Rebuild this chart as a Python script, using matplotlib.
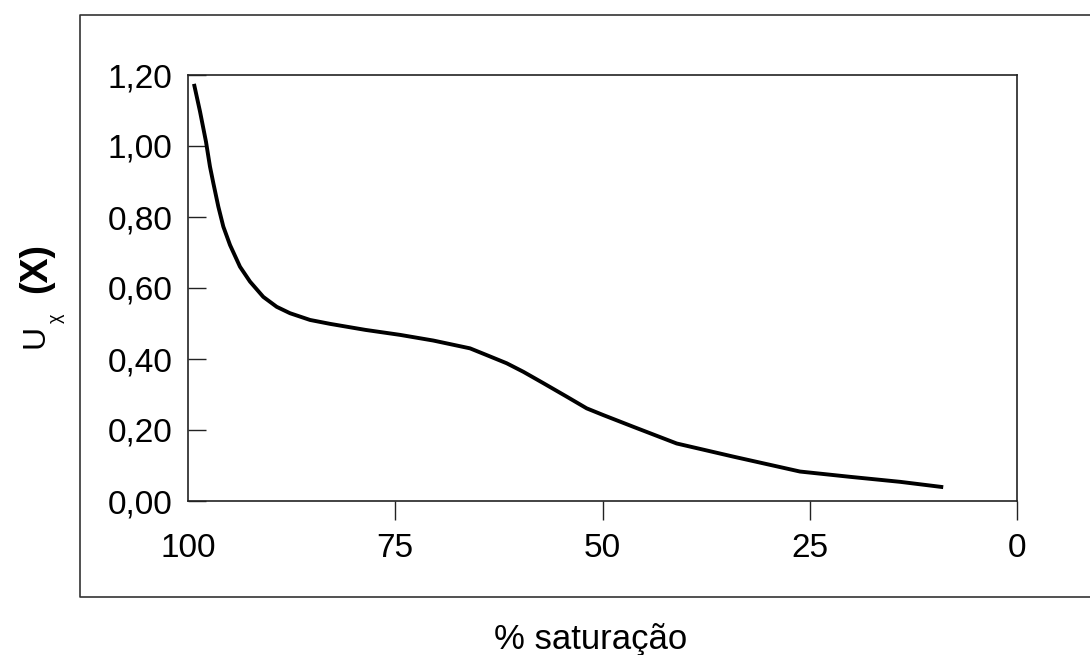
import matplotlib
matplotlib.use("Agg")
import matplotlib.pyplot as plt
from matplotlib.lines import Line2D

plt.rcParams['font.family'] = ['Liberation Sans', 'DejaVu Sans']

# Data
saturation = [99.28, 98.55, 97.83, 97.35, 96.94, 96.34, 95.74, 94.93, 93.73, 92.52,
              90.92, 89.30, 87.70, 85.28, 82.87, 78.6, 74.43, 70.41, 65.98, 63.97,
              61.56, 59.55, 57.14, 54.32, 51.91, 49.90, 46.28, 41.05, 34.22, 26.18,
              20.1, 14.1, 8.9]
u_x = [1.175, 1.097, 1.012, 0.942, 0.895, 0.829, 0.773, 0.721, 0.660, 0.618,
       0.575, 0.547, 0.529, 0.510, 0.499, 0.482, 0.468, 0.452, 0.430, 0.411,
       0.388, 0.364, 0.332, 0.294, 0.261, 0.242, 0.209, 0.162, 0.125, 0.083,
       0.068, 0.054, 0.039]
x_ticks = [100, 75, 50, 25, 0]
x_ticklabels = ['100', '75', '50', '25', '0']
y_ticks = [0.0, 0.2, 0.4, 0.6, 0.8, 1.0, 1.2]
y_ticklabels = ['0,00', '0,20', '0,40', '0,60', '0,80', '1,00', '1,20']

W, H = 1090, 655
fig = plt.figure(figsize=(W / 100, H / 100), dpi=100)
ax = fig.add_axes([188 / W, 1 - 501 / H, (1017 - 188) / W, (501 - 75) / H])

ax.plot(saturation, u_x, color='black', lw=2.8, solid_capstyle='butt',
        solid_joinstyle='round')
ax.set_xlim(100, 0)
ax.set_ylim(0, 1.2)

ax.set_xticks(x_ticks)
ax.set_xticklabels(x_ticklabels, fontsize=24)
ax.set_yticks(y_ticks)
ax.set_yticklabels(y_ticklabels, fontsize=24)
ax.tick_params(axis='x', direction='out', length=14, width=1.0, pad=9, color='#222222')
ax.tick_params(axis='y', direction='in', length=13, width=1.0, pad=11, color='#222222')
ax.xaxis.get_major_ticks()[0].tick1line.set_visible(False)
for s in ax.spines.values():
    s.set_linewidth(1.2)
    s.set_color('#222222')


def fx(p):
    return p / W


def fy(p):
    return 1 - p / H


# outer frame (open on the right, extends beyond the image)
frame = Line2D([fx(1100), fx(80), fx(80), fx(1100)], [fy(15), fy(15), fy(597), fy(597)],
               transform=fig.transFigure, color='#333333', lw=1.2)
fig.add_artist(frame)

# axis labels
fig.text(fx(591), fy(640), '% saturação', ha='center', va='center', fontsize=25)
fig.text(fx(36), fy(268), '(X)', ha='center', va='center', rotation=90,
         fontsize=27, fontweight='bold')
fig.text(fx(36), fy(336), 'U', ha='center', va='center', rotation=90, fontsize=23)
fig.text(fx(56), fy(318), 'χ', ha='center', va='center', rotation=90, fontsize=13)

fig.savefig('out.png', dpi=100)
